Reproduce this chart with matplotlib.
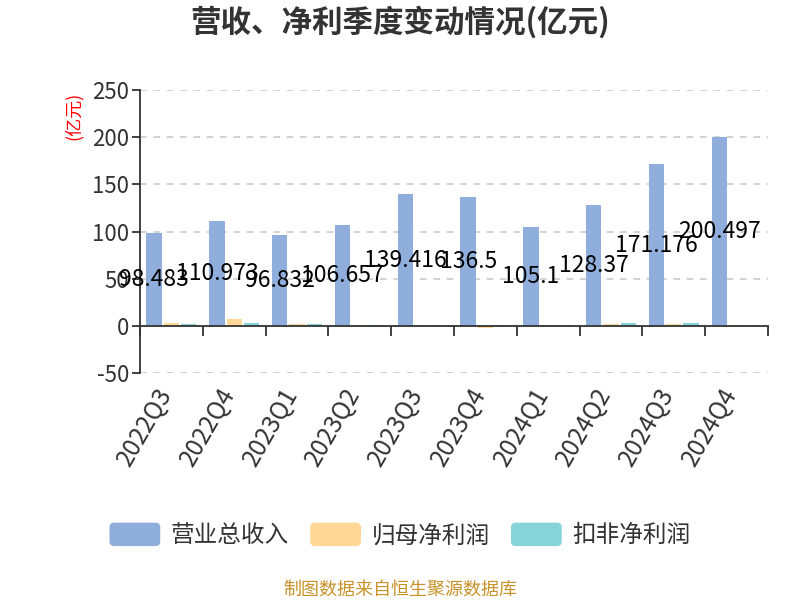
import numpy as np
import matplotlib
matplotlib.use('Agg')
import matplotlib.pyplot as plt
from matplotlib.patches import FancyBboxPatch, Patch
from matplotlib.legend_handler import HandlerPatch

plt.rcParams['font.family'] = ['Noto Sans CJK SC', 'DejaVu Sans']
plt.rcParams['axes.unicode_minus'] = False

quarters = ['2022Q3', '2022Q4', '2023Q1', '2023Q2', '2023Q3',
            '2023Q4', '2024Q1', '2024Q2', '2024Q3', '2024Q4']
revenue = [98.483, 110.973, 96.832, 106.657, 139.416, 136.5, 105.1, 128.37, 171.176, 200.497]
net_profit = [3.5, 7.8, 2.5, 1.4, 0.2, -1.8, 1.0, 2.5, 2.6, 1.2]
net_profit_adj = [2.4, 3.6, 2.6, 0.8, 0.1, -1.5, 0.8, 2.9, 2.9, 0.3]
series_names = ['营业总收入', '归母净利润', '扣非净利润']
colors = ['#8FAEDB', '#FFD897', '#87D4D8']


class RoundHandler(HandlerPatch):
    def create_artists(self, legend, orig_handle, xdescent, ydescent,
                       width, height, fontsize, trans):
        p = FancyBboxPatch((-xdescent, -ydescent), width, height,
                           boxstyle='round,pad=0,rounding_size=%f' % (height * 0.2),
                           facecolor=orig_handle.get_facecolor(), edgecolor='none',
                           transform=trans)
        return [p]


fig = plt.figure(figsize=(8, 6), dpi=100)
ax = fig.add_axes([0.175, 0.378, 0.785, 0.472])

x = np.arange(len(quarters))
w = 0.245
off = 0.275
ax.bar(x - off, revenue, w, color=colors[0], zorder=3)
ax.bar(x, net_profit, w, color=colors[1], zorder=3)
ax.bar(x + off, net_profit_adj, w, color=colors[2], zorder=3)

for xi, v in zip(x, revenue):
    ax.text(xi - off, v / 2, f'{v:g}', ha='center', va='center',
            fontsize=16.5, color='black', zorder=5)

ax.set_xlim(-0.5, len(quarters) - 0.5)
ax.set_ylim(-50, 250)
ax.set_yticks(np.arange(-50, 251, 50))
ax.yaxis.grid(True, linestyle=(0, (4, 4)), color='#cccccc', linewidth=1.2, zorder=0)

ax.spines['top'].set_visible(False)
ax.spines['right'].set_visible(False)
ax.spines['left'].set_color('#333333')
ax.spines['left'].set_linewidth(1.3)
ax.spines['bottom'].set_position(('data', 0))
ax.spines['bottom'].set_color('#333333')
ax.spines['bottom'].set_linewidth(1.3)
ax.spines['bottom'].set_zorder(4)

ax.set_xticks(np.arange(-0.5, len(quarters), 1.0))
ax.tick_params(axis='x', length=7, width=1.3, color='#333333', labelbottom=False)
ax.tick_params(axis='y', length=6, width=1.3, color='#333333', labelsize=16,
               labelcolor='#333333', pad=2)

sec = ax.secondary_xaxis(0)
sec.set_xticks(x - 0.08)
sec.set_xticklabels(quarters, rotation=60, ha='right', va='center',
                    rotation_mode='anchor', fontsize=17.5, color='#333333')
sec.tick_params(length=0, pad=12)
sec.spines['bottom'].set_visible(False)

ax.text(-0.105, 0.995, '(亿元)', transform=ax.transAxes, rotation=90,
        ha='center', va='top', fontsize=13, color='red')

fig.text(0.5, 0.962, '营收、净利季度变动情况(亿元)', ha='center', va='center',
         fontsize=22, fontweight='bold', color='#333333')

handles = [Patch(facecolor=c) for c in colors]
fig.legend(handles, series_names, loc='center', bbox_to_anchor=(0.5, 1 - 535 / 600),
           ncol=3, frameon=False, fontsize=17, handlelength=2.15, handleheight=1.15,
           columnspacing=0.9, handletextpad=0.45, labelcolor='#333333',
           handler_map={Patch: RoundHandler()})

fig.text(0.5, 1 - 590 / 600, '制图数据来自恒生聚源数据库', ha='center', va='center',
         fontsize=13, color='#C8922A')

fig.savefig('out.png', dpi=100)
